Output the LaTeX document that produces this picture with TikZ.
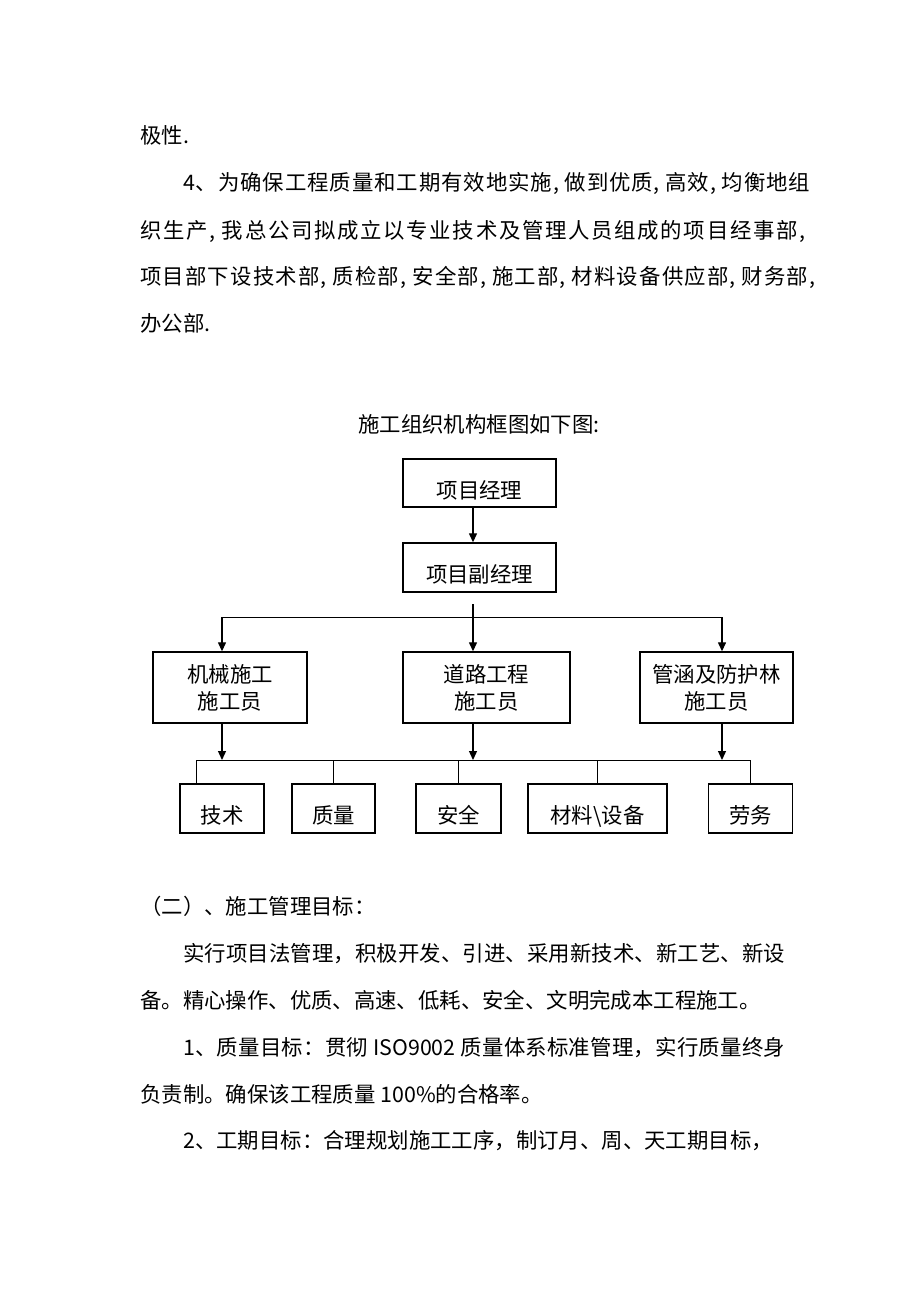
\documentclass[tikz,border=0pt]{standalone}
\usepackage{fontspec}
\newfontfamily\cjk{Noto Sans CJK SC}
\usetikzlibrary{arrows.meta,positioning}
\tikzset
{
    txt/.style    = {anchor=base west, inner sep=0pt, font=\cjk\fontsize{21.4}{26}\selectfont},
    orgbox/.style = {draw=black, line width=1.4pt, align=center, inner sep=0pt, font=\cjk\fontsize{21.4}{27}\selectfont},
    link/.style   = {line width=1pt},
    arr/.style    = {line width=1.3pt, -{Triangle[length=9pt,width=8pt]}}
}
% half-width comma with its blank
\newcommand\dou{\makebox[0.5em][l]{,}}
% spread a line to a given width, as a justified line
\def\spreadstop{\spreadstop}
\newcommand\fullline[2]{\makebox[#1][s]{\spreadfirst#2\spreadstop}}
\def\spreadfirst#1{#1\spreadrest}
\def\spreadrest#1{\def\spreadtmp{#1}\ifx\spreadtmp\spreadstop\else\hskip0pt plus1fil\relax#1\expandafter\spreadrest\fi}
\begin{document}
\begin{tikzpicture}[x=1pt, y=-1pt]
	\useasboundingbox (0,0) rectangle (920,1302);
	% text above
	\node[txt] (p1) at (140,143) {极性.};
	\node[txt] (p2) at (183,190) {\fullline{627pt}{4、为确保工程质量和工期有效地实施\dou 做到优质\dou 高效\dou 均衡地组}};
	\node[txt] (p3) at (140,238) {\fullline{670pt}{织生产\dou 我总公司拟成立以专业技术及管理人员组成的项目经事部\dou}};
	\node[txt] (p4) at (140,284) {\fullline{680pt}{项目部下设技术部\dou 质检部\dou 安全部\dou 施工部\dou 材料设备供应部\dou 财务部\dou}};
	\node[txt] (p5) at (140,331) {办公部.};
	\node[txt, anchor=base] (title) at (479,432) {施工组织机构框图如下图:};
	% chart
	\node[orgbox, minimum width=153pt, minimum height=48pt, text height=30pt, text depth=0pt] (pm) at (479.5,483) {项目经理};
	\node[orgbox, minimum width=153pt, minimum height=49pt, text height=30pt, text depth=0pt] (vpm) at (479.5,567.5) {项目副经理};
	\node[orgbox, minimum width=154pt, minimum height=71pt] (m1) at (230,687.5) {机械施工\\施工员};
	\node[orgbox, minimum width=167pt, minimum height=71pt] (m2) at (486.5,687.5) {道路工程\\施工员};
	\node[orgbox, minimum width=153pt, minimum height=71pt] (m3) at (716.5,687.5) {管涵及防护林\\施工员};
	\node[orgbox, minimum width=84pt, minimum height=49pt, text height=29pt, text depth=0pt] (t1) at (222,808.5) {技术};
	\node[orgbox, minimum width=83pt, minimum height=49pt, text height=29pt, text depth=0pt] (t2) at (333.5,808.5) {质量};
	\node[orgbox, minimum width=85pt, minimum height=49pt, text height=29pt, text depth=0pt] (t3) at (458.5,808.5) {安全};
	\node[orgbox, minimum width=139pt, minimum height=49pt, text height=29pt, text depth=0pt] (t4) at (597.5,808.5) {材料\textbackslash 设备};
	\node[orgbox, minimum width=84pt, minimum height=49pt, text height=29pt, text depth=0pt] (t5) at (750.5,808.5) {劳务};
	\coordinate (spine) at (473,604);
	\coordinate (a1) at (222,617);
	\coordinate (a3) at (722,617);
	\coordinate (bus) at (196,760);
	\coordinate (busend) at (750,760);
	\draw[arr] (pm.south -| spine) -- (vpm.north -| spine);
	\draw[arr] (spine) -- (spine |- m2.north);
	\draw[link] (a1) -- (a3);
	\draw[arr] (a1) -- (a1 |- m1.north);
	\draw[arr] (a3) -- (a3 |- m3.north);
	\draw[arr] (m1.south -| a1) -- (a1 |- bus);
	\draw[arr] (m2.south -| spine) -- (spine |- bus);
	\draw[arr] (m3.south -| a3) -- (a3 |- bus);
	\draw[link] (bus) -- (busend);
	\draw[link] (bus) -- (bus |- t1.north);
	\draw[link] (busend) -- (busend |- t5.north);
	\foreach \n in {t2,t3,t4}
		\draw[link] (\n.north) -- (\n.north |- bus);
	% text below
	\node[txt] (q1) at (140,914) {（二）、施工管理目标：};
	\node[txt] (q2) at (183,961) {\fullline{602pt}{实行项目法管理，积极开发、引进、采用新技术、新工艺、新设}};
	\node[txt] (q3) at (140,1008) {备。精心操作、优质、高速、低耗、安全、文明完成本工程施工。};
	\node[txt] (q4) at (183,1055) {\fullline{602pt}{1、质量目标：贯彻{ ISO9002 }质量体系标准管理，实行质量终身}};
	\node[txt] (q5) at (140,1102) {负责制。确保该工程质量 100\%的合格率。};
	\node[txt] (q6) at (183,1148) {2、工期目标：合理规划施工工序，制订月、周、天工期目标，};
\end{tikzpicture}
\end{document}
